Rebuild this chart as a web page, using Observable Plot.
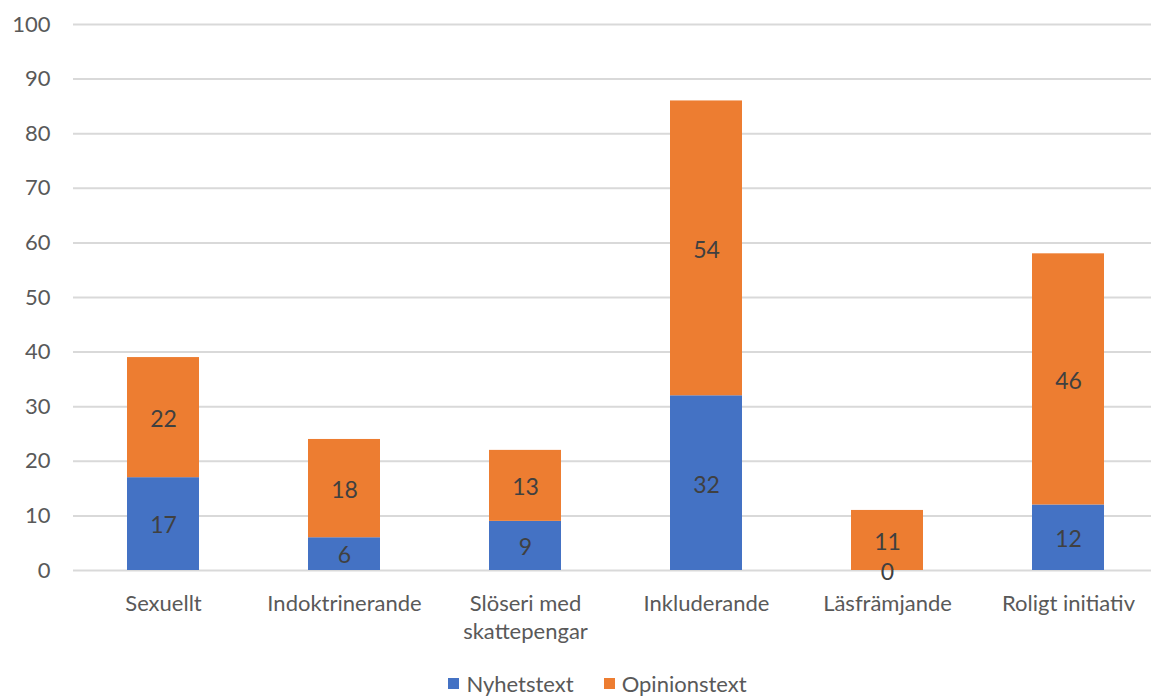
<!DOCTYPE html>
<html>
<head>
<meta charset="utf-8">
<script src="https://cdn.jsdelivr.net/npm/d3@7"></script>
<script src="https://cdn.jsdelivr.net/npm/@observablehq/plot@0.6"></script>
<style>
  html, body { margin: 0; padding: 0; background: #fff; overflow: hidden; }
  #chart svg { display: block; }
  .legend { display: flex; justify-content: center; align-items: center; height: 30px; padding-top: 1px;
    font-family: Lato, "Open Sans", sans-serif; font-size: 22px; color: #595959; padding-left: 44px; }
  .legend span.sw { display: inline-block; width: 11px; height: 11px; margin-right: 7px; }
  .legend .item { display: flex; align-items: center; margin: 0 15px; }
</style>
</head>
<body>
<div id="chart"></div>
<div class="legend" id="legend"></div>
<script>
const categories = ["Sexuellt", "Indoktrinerande", "Slöseri med skattepengar", "Inkluderande", "Läsfrämjande", "Roligt initiativ"];
const categoryLabels = ["Sexuellt", "Indoktrinerande", "Slöseri med\nskattepengar", "Inkluderande", "Läsfrämjande", "Roligt initiativ"];
const nyhetstext = [17, 6, 9, 32, 0, 12];
const opinionstext = [22, 18, 13, 54, 11, 46];
const seriesNames = ["Nyhetstext", "Opinionstext"];
const seriesColors = ["#4472C4", "#ED7D31"];
const yTicks = [0, 10, 20, 30, 40, 50, 60, 70, 80, 90, 100];

const data = [];
categories.forEach((c, i) => {
  data.push({category: c, type: seriesNames[0], value: nyhetstext[i]});
  data.push({category: c, type: seriesNames[1], value: opinionstext[i]});
});
const labelOf = new Map(categories.map((c, i) => [c, categoryLabels[i]]));

const chart = Plot.plot({
  width: 1151,
  height: 667,
  marginLeft: 73,
  marginRight: 0,
  marginTop: 24,
  marginBottom: 97,
  style: {fontFamily: "Lato, 'Open Sans', sans-serif", fontSize: "22px", color: "#595959", background: "#fff"},
  x: {domain: categories, range: [73, 1159], paddingInner: 0.6, paddingOuter: 0.3},
  y: {domain: [0, 100]},
  color: {domain: seriesNames, range: seriesColors},
  marks: [
    Plot.gridY({ticks: yTicks, stroke: "#d9d9d9", strokeOpacity: 1, strokeWidth: 2}),
    Plot.barY(data, Plot.stackY({x: "category", y: "value", fill: "type", order: null})),
    Plot.text(data, Plot.stackY({x: "category", y: "value", z: "type", text: d => String(d.value), fill: "#404040", fontSize: 23, dy: 2, order: null})),
    Plot.axisY({ticks: yTicks, tickSize: 0, tickPadding: 23, fill: "#595959", fontSize: 22, label: null}),
    Plot.axisX({tickSize: 0, tickPadding: 20, fill: "#595959", fontSize: 22, label: null, lineHeight: 1.3, tickFormat: d => labelOf.get(d)})
  ]
});
document.getElementById("chart").appendChild(chart);

const legend = document.getElementById("legend");
seriesNames.forEach((name, i) => {
  const item = document.createElement("div");
  item.className = "item";
  const sw = document.createElement("span");
  sw.className = "sw";
  sw.style.background = seriesColors[i];
  item.appendChild(sw);
  item.appendChild(document.createTextNode(name));
  legend.appendChild(item);
});
</script>
</body>
</html>
